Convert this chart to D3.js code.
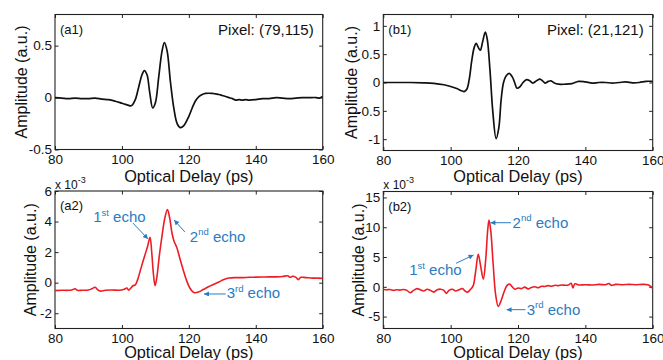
<!DOCTYPE html>
<html><head><meta charset="utf-8">
<script src="https://cdn.jsdelivr.net/npm/d3@7"></script>
<style>body{margin:0;background:#fff}svg{display:block}text{font-family:Arial,"Liberation Sans",sans-serif}</style>
</head><body><svg id="c" width="663" height="360"></svg>
<script>
// ---------- data ----------
const xTicks = [80, 100, 120, 140, 160];
const a1YTicks = [-0.5, 0, 0.5];
const b1YTicks = [-1, -0.5, 0, 0.5, 1];
const a2YTicks = [-2, 0, 2, 4, 6];
const b2YTicks = [-5, 0, 5, 10, 15];

const a1Delay = [80,82,84,86,88,90,92,94,96,98,100,101,102,102.5,103,104,105,106,106.7,107.5,108.3,109.2,110,111,112,112.7,113.5,114.5,115.5,116.5,117.5,118.5,120,121,122,123,124,125,127,128,129,130,132,133,134,135,136,137,138,140,142,144,146,148,150,152,154,156,158,159,160];
const a1Amp = [0,-0.005,-0.01,-0.005,-0.01,-0.01,-0.005,-0.015,-0.02,-0.035,-0.055,-0.065,-0.075,-0.08,-0.075,-0.02,0.1,0.22,0.26,0.22,0.05,-0.10,-0.05,0.2,0.45,0.53,0.45,0.15,-0.1,-0.25,-0.29,-0.27,-0.18,-0.1,-0.03,0.01,0.03,0.04,0.04,0.035,0.03,0.02,0.0,-0.01,-0.025,-0.02,-0.025,-0.02,-0.025,-0.02,-0.01,-0.01,0.0,-0.005,-0.01,-0.005,0.0,0.0,0.0,-0.005,0.01];

const b1Delay = [80,84,88,92,95,98,100,102,103,104,104.8,105.5,106.3,107,107.6,108.2,108.8,109.5,110.3,110.9,111.7,112.5,113.5,114.3,115,115.7,116.5,117.4,118.3,119,119.7,120.5,121.5,122.6,123.5,124.4,125.5,126.5,127.3,128,129,129.8,130.8,132,134,136,138,140,142,144,146,148,150,152,154,156,158,160];
const b1Amp = [0,0,0,-0.005,-0.015,-0.04,-0.07,-0.11,-0.14,-0.16,-0.12,0.05,0.4,0.62,0.69,0.62,0.57,0.72,0.89,0.75,0.2,-0.5,-0.99,-0.8,-0.3,0.0,0.12,0.16,0.1,0.0,-0.1,-0.08,0.0,0.05,0.03,-0.01,0.03,0.06,0.03,-0.01,0.02,0.03,-0.01,-0.03,-0.03,-0.02,0.02,0.01,-0.01,0.0,0.0,-0.01,0.0,0.01,-0.005,0.0,0.02,0.02];

// x 10^-3
const a2Delay = [80,82,84,85,86,86.7,88,90,91,92,92.7,93.5,95,97,99,100.5,101.5,102,102.7,103.3,104,104.7,105.5,106.3,107,107.7,108.4,108.9,109.4,109.9,110.4,111.2,112,112.8,113.6,114.3,115,115.6,116.4,117.3,118.3,119.3,120.3,121.2,121.8,123,124.3,126,127.5,129,130.5,132,134,136,138,140,142,144,146,148,149.5,150.3,151,152,152.7,153.5,155,157,158.5,160];
const a2Amp = [-0.52,-0.5,-0.5,-0.48,-0.4,-0.5,-0.5,-0.48,-0.4,-0.3,-0.45,-0.55,-0.5,-0.48,-0.5,-0.45,-0.35,-0.5,-0.35,-0.2,-0.15,0.2,0.8,1.4,1.9,2.4,2.97,2.0,0.6,-0.2,0.3,1.8,3.1,4.2,4.79,4.2,3.2,2.7,2.3,1.6,0.85,0.15,-0.35,-0.6,-0.66,-0.6,-0.45,-0.25,-0.1,0.05,0.2,0.3,0.33,0.33,0.35,0.36,0.37,0.38,0.38,0.4,0.45,0.35,0.42,0.35,0.2,0.35,0.33,0.3,0.3,0.28];

const b2Delay = [80,81,82,83,84,85,86,87,88,89,90,91,92,93,94,95,96,97,98,98.7,99.5,100.5,101.5,102.5,103.5,104.3,105,105.8,106.7,107.4,108.2,108.9,109.7,110.4,111,111.4,111.9,112.6,113.4,114.15,115,115.9,116.7,117.5,118.3,119.1,120,121,122,123,124,125,126,127,128,129,130,131,132,133,134,135,135.8,136.3,136.9,138,140,142,144,146,147,147.7,149,151,153,155,157,158.5,159.3,160];
const b2Amp = [-0.4,-0.5,-0.45,-0.6,-0.5,-0.55,-0.45,-0.6,-1.0,-0.6,-0.3,-0.5,-0.7,-0.4,-0.6,-0.9,-0.5,-0.4,-0.6,-1.1,-0.6,-0.4,-0.7,-0.5,-0.3,-0.7,-0.9,-0.5,0.2,2.5,5.45,3.5,1.28,4.5,9.5,11.2,9.5,4.0,-1.5,-3.3,-2.3,-0.8,0.2,0.45,0.0,-0.4,-0.2,-0.3,-0.05,-0.35,-0.1,0.0,-0.15,0.1,0.05,0.2,0.1,0.25,0.2,0.3,0.25,0.3,0.6,-0.2,0.5,0.3,0.35,0.3,0.4,0.35,0.55,0.25,0.4,0.35,0.4,0.35,0.4,0.35,0.1,-0.3];

// annotations: [ordinal, suffix, textX, textY, arrowFromX, arrowFromY, arrowToX, arrowToY] in data units
const a2Notes = [
  ["1","st",91.4,3.97,103.3,3.9,107.8,2.86],
  ["2","nd",120.3,2.68,118.8,3.32,115.6,4.1],
  ["3","rd",131.3,-1.02,131.0,-0.74,124.5,-0.74]
];
const b2Notes = [
  ["2","nd",118.4,9.92,117.9,10.76,111.8,10.76],
  ["1","st",87.7,1.98,101.6,3.95,106.8,5.34],
  ["3","rd",122.6,-4.73,122.2,-3.84,116.6,-3.84]
];

// ---------- layout ----------
const panels = [
  {tag:"(a1)", pixel:"Pixel: (79,115)", box:[55,322.7,14.5,149.5], yDom:[-0.5,0.8], yTicks:a1YTicks, xs:a1Delay, ys:a1Amp, color:"#111", lw:1.7, yLabX:26.5, xLabY:182, notes:null, scale:false},
  {tag:"(b1)", pixel:"Pixel: (21,121)", box:[383.3,652.7,14.5,150.5], yDom:[-1.2,1.2], yTicks:b1YTicks, xs:b1Delay, ys:b1Amp, color:"#111", lw:1.7, yLabX:356.5, xLabY:182, notes:null, scale:false},
  {tag:"(a2)", pixel:null, box:[55,322.7,191,328.5], yDom:[-3,6], yTicks:a2YTicks, xs:a2Delay, ys:a2Amp, color:"#ee1c24", lw:1.6, yLabX:36, xLabY:358.3, notes:a2Notes, scale:true},
  {tag:"(b2)", pixel:null, box:[383.3,652.7,191.5,328.5], yDom:[-7,16], yTicks:b2YTicks, xs:b2Delay, ys:b2Amp, color:"#ee1c24", lw:1.6, yLabX:363.5, xLabY:358.3, notes:b2Notes, scale:true}
];

const svg = d3.select("#c");
const defs = svg.append("defs");
defs.append("marker").attr("id","ah").attr("viewBox","0 0 10 10").attr("refX",10).attr("refY",5)
  .attr("markerWidth",6).attr("markerHeight",5).attr("markerUnits","userSpaceOnUse").attr("orient","auto")
  .append("path").attr("d","M0,0L10,5L0,10z").attr("fill","#2a7bc2");

const blue = "#2a7bc2";
const tickLen = 3.5;

panels.forEach(p => {
  const [L,R,T,B] = p.box;
  const x = d3.scaleLinear().domain([80,160]).range([L,R]);
  const y = d3.scaleLinear().domain(p.yDom).range([B,T]);
  const g = svg.append("g");

  const cid = "clip"+p.tag.replace(/[()]/g,"");
  defs.append("clipPath").attr("id",cid).append("rect").attr("x",L).attr("y",T).attr("width",R-L).attr("height",B-T);

  const fmt = d => String(d);
  const ax = g.append("g").attr("transform",`translate(0,${B})`)
    .call(d3.axisBottom(x).tickValues(xTicks).tickSize(-tickLen).tickPadding(5).tickFormat(fmt));
  const axT = g.append("g").attr("transform",`translate(0,${T})`)
    .call(d3.axisTop(x).tickValues(xTicks).tickSize(-tickLen).tickFormat(""));
  const ay = g.append("g").attr("transform",`translate(${L},0)`)
    .call(d3.axisLeft(y).tickValues(p.yTicks).tickSize(-tickLen).tickPadding(3).tickFormat(fmt));
  const ayR = g.append("g").attr("transform",`translate(${R},0)`)
    .call(d3.axisRight(y).tickValues(p.yTicks).tickSize(-tickLen).tickFormat(""));
  [ax,axT,ay,ayR].forEach(a => {
    a.select(".domain").remove();
    a.selectAll("line").attr("stroke","#222").attr("stroke-width",1);
    a.selectAll("text").attr("font-size","13.5px").attr("fill","#111").attr("font-family","Arial, 'Liberation Sans', sans-serif");
  });

  g.append("rect").attr("x",L).attr("y",T).attr("width",R-L).attr("height",B-T)
    .attr("fill","none").attr("stroke","#222").attr("stroke-width",1.1);

  const pts = p.xs.map((d,i)=>[d,p.ys[i]]);
  g.append("path").datum(pts).attr("clip-path",`url(#${cid})`)
    .attr("d", d3.line().x(d=>x(d[0])).y(d=>y(d[1])).curve(d3.curveCatmullRom.alpha(0.5)))
    .attr("fill","none").attr("stroke",p.color).attr("stroke-width",p.lw).attr("stroke-linejoin","round");

  g.append("text").attr("x",L+5).attr("y",T+19).attr("font-size","13px").attr("fill","#111").text(p.tag);
  if (p.pixel) g.append("text").attr("x",R-9).attr("y",T+20.5).attr("text-anchor","end")
    .attr("font-size","15px").attr("fill","#111").text(p.pixel);

  g.append("text").attr("x",(L+R)/2).attr("y",p.xLabY).attr("text-anchor","middle")
    .attr("font-size","16.3px").attr("fill","#111").text("Optical Delay (ps)");
  g.append("text").attr("transform",`translate(${p.yLabX},${(T+B)/2}) rotate(-90)`).attr("text-anchor","middle")
    .attr("font-size","16px").attr("fill","#111").text("Amplitude (a.u.)");

  if (p.scale) {
    const st = g.append("text").attr("x",L).attr("y",T-2.5).attr("font-size","12px").attr("fill","#111");
    st.append("tspan").text("x 10");
    st.append("tspan").attr("dy",-6).attr("font-size","9px").text("-3");
  }

  if (p.notes) {
    p.notes.forEach(n => {
      const [ord,suf,tx,ty,fx,fy,ex,ey] = n;
      g.append("line").attr("x1",x(fx)).attr("y1",y(fy)).attr("x2",x(ex)).attr("y2",y(ey))
        .attr("stroke",blue).attr("stroke-width",1).attr("marker-end","url(#ah)");
      const t = g.append("text").attr("x",x(tx)).attr("y",y(ty)).attr("font-size","15px").attr("fill",blue);
      t.append("tspan").text(ord);
      t.append("tspan").attr("dy",-6.5).attr("font-size","9.5px").text(suf);
      t.append("tspan").attr("dy",6.5).text(" echo");
    });
  }
});
</script></body></html>
